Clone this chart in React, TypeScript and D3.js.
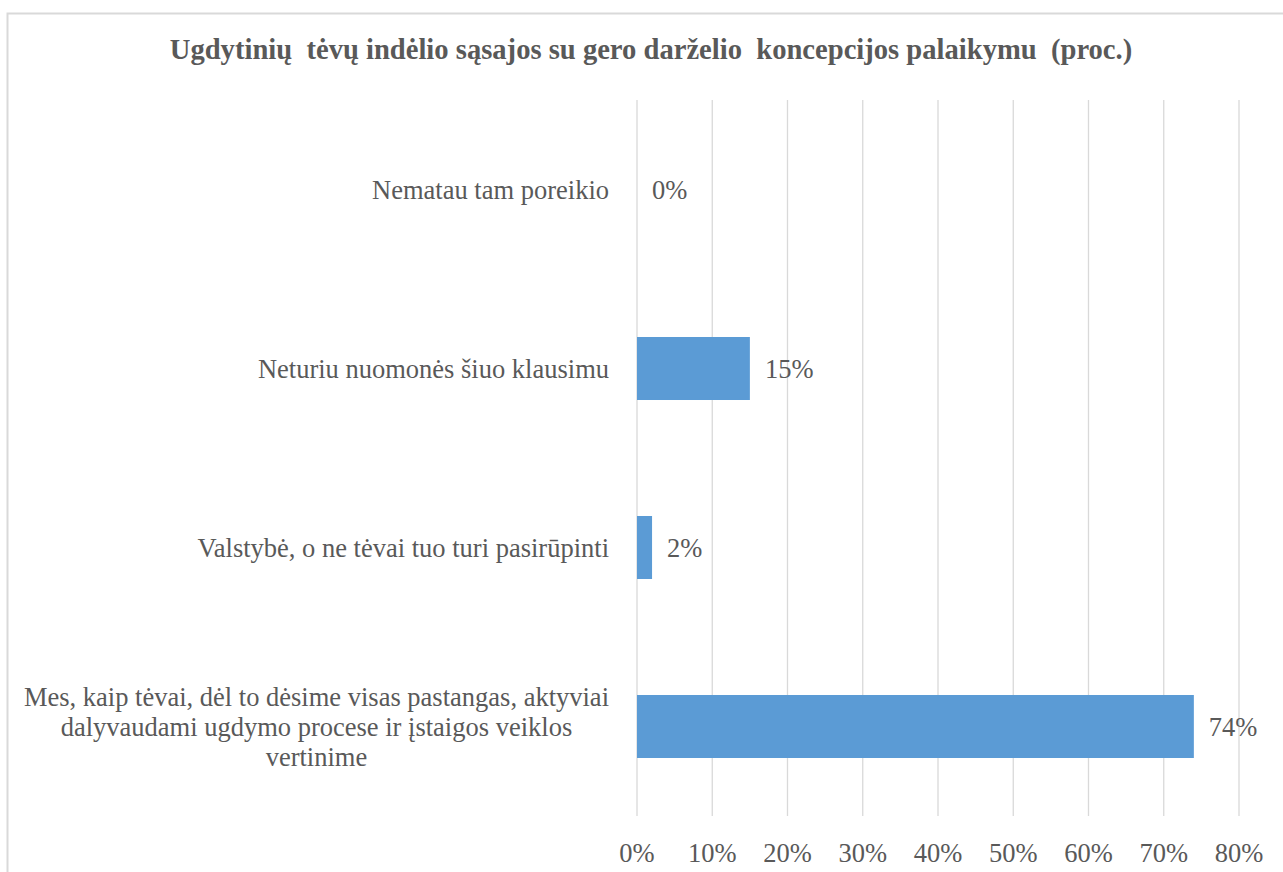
import React, { useEffect, useRef } from 'react';
import * as d3 from 'd3';

const title = 'Ugdytinių  tėvų indėlio sąsajos su gero darželio  koncepcijos palaikymu  (proc.)';
const categories = [
  'Nematau tam poreikio',
  'Neturiu nuomonės šiuo klausimu',
  'Valstybė, o ne tėvai tuo turi pasirūpinti',
  'Mes, kaip tėvai, dėl to dėsime visas pastangas, aktyviai dalyvaudami ugdymo procese ir įstaigos veiklos vertinime'
];
const values = [0, 15, 2, 74];
const ticks = [0, 10, 20, 30, 40, 50, 60, 70, 80];

const W = 1283;
const H = 872;
const FONT = '"Liberation Serif", "Times New Roman", serif';
const TEXT = '#595959';
const FS = 26.5;

const App = () => {
  const svgRef = useRef<SVGSVGElement>(null);

  useEffect(() => {
    const svg = d3.select(svgRef.current);
    svg.selectAll('*').remove();

    const margin = { top: 100, right: 44, bottom: 56, left: 637 };
    const x = d3.scaleLinear().domain([0, 80]).range([margin.left, W - margin.right]);
    const y = d3.scaleBand<string>()
      .domain(categories)
      .range([margin.top, H - margin.bottom])
      .paddingInner(0.648)
      .paddingOuter(0.324);

    // outer chart border
    svg.append('rect')
      .attr('x', 7.5).attr('y', 13.5)
      .attr('width', W + 20).attr('height', H + 20)
      .attr('fill', '#fff')
      .attr('stroke', '#d9d9d9')
      .attr('stroke-width', 2);

    svg.append('text')
      .attr('x', 651).attr('y', 59)
      .attr('text-anchor', 'middle')
      .attr('font-family', FONT)
      .attr('font-weight', 'bold')
      .attr('font-size', 28.6)
      .attr('fill', TEXT)
      .style('white-space', 'pre')
      .text(title);

    // gridlines
    svg.append('g')
      .selectAll('line')
      .data(ticks)
      .enter()
      .append('line')
      .attr('x1', d => x(d)).attr('x2', d => x(d))
      .attr('y1', margin.top).attr('y2', H - margin.bottom)
      .attr('stroke', '#d9d9d9')
      .attr('stroke-width', 1.3);

    svg.append('g')
      .selectAll('text')
      .data(ticks)
      .enter()
      .append('text')
      .attr('x', d => x(d))
      .attr('y', 862)
      .attr('text-anchor', 'middle')
      .attr('font-family', FONT)
      .attr('font-size', FS)
      .attr('fill', TEXT)
      .text(d => `${d}%`);

    // bars
    svg.append('g')
      .selectAll('rect')
      .data(values)
      .enter()
      .append('rect')
      .attr('x', x(0))
      .attr('y', (d, i) => y(categories[i]))
      .attr('width', d => x(d) - x(0))
      .attr('height', y.bandwidth())
      .attr('fill', '#5b9bd5');

    svg.append('g')
      .selectAll('text')
      .data(values)
      .enter()
      .append('text')
      .attr('x', d => x(d) + 15)
      .attr('y', (d, i) => y(categories[i]) + y.bandwidth() / 2)
      .attr('dy', '0.35em')
      .attr('font-family', FONT)
      .attr('font-size', FS)
      .attr('fill', TEXT)
      .text(d => `${d}%`);

    // category labels, wrapped like Excel
    const labelRight = 609;
    const maxWidth = 600;
    const lineH = 30;
    categories.forEach(cat => {
      const cy = y(cat) + y.bandwidth() / 2;
      const g = svg.append('g');
      const t = g.append('text')
        .attr('font-family', FONT)
        .attr('font-size', FS)
        .attr('fill', TEXT);
      const words = cat.split(' ');
      const lines: string[] = [];
      let cur = '';
      words.forEach(w => {
        const test = cur ? `${cur} ${w}` : w;
        t.text(test);
        if ((t.node() as SVGTextElement).getComputedTextLength() > maxWidth && cur) {
          lines.push(cur);
          cur = w;
        } else {
          cur = test;
        }
      });
      lines.push(cur);
      const widths = lines.map(l => {
        t.text(l);
        return (t.node() as SVGTextElement).getComputedTextLength();
      });
      t.remove();
      const widest = d3.max(widths) || 0;
      const cx = labelRight - widest / 2;
      lines.forEach((l, i) => {
        g.append('text')
          .attr('x', cx)
          .attr('y', cy + (i - (lines.length - 1) / 2) * lineH)
          .attr('dy', '0.35em')
          .attr('text-anchor', 'middle')
          .attr('font-family', FONT)
          .attr('font-size', FS)
          .attr('fill', TEXT)
          .text(l);
      });
    });
  }, []);

  return (
    <div style={{ position: 'fixed', left: 0, top: 0, width: W, height: H, background: '#fff' }}>
      <svg ref={svgRef} width={W} height={H} style={{ display: 'block' }} />
    </div>
  );
};

export default App;
